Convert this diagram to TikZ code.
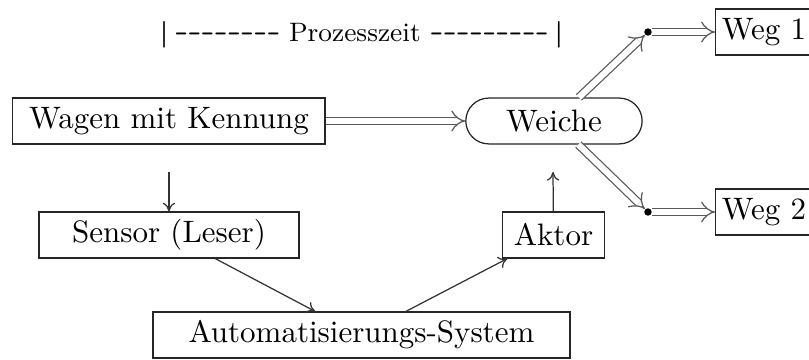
\documentclass[tikz,border=0pt]{standalone}
\usetikzlibrary{arrows.meta, shapes.misc}

\newcommand{\zeitstrich}{\texttt{\fontsize{8}{10}\selectfont-}}

\begin{document}
\begin{tikzpicture}[
  kasten/.style={draw=black!85, text=black, minimum height=0.52cm, inner sep=2pt},
  bahn/.style={draw=black!65, double, double distance=2pt, -{Implies[length=3.2pt]}},
  signal/.style={-{Computer Modern Rightarrow[length=2.8pt,width=4pt]}, black!80},
  punkt/.style={circle, fill, inner sep=0pt, minimum size=2.4pt}]
\useasboundingbox (0,0) rectangle (9.174,4.071);

% Stationen
\node[kasten, minimum width=3.54cm] (wagen) at (1.916,2.699) {Wagen mit Kennung};
\node[kasten, rounded rectangle, minimum width=2.14cm] (weiche) at (6.282,2.699) {Weiche};
\node[kasten, minimum width=2.95cm] (sensor) at (1.916,1.406) {Sensor (Leser)};
\node[kasten, minimum width=4.73cm] (auto) at (4.099,0.272) {Automatisierungs-System};
\node[kasten, minimum width=1.15cm] (aktor) at (6.277,1.406) {Aktor};

\node[punkt] (p1) at (7.348,3.708) {};
\node[punkt] (p2) at (7.348,1.667) {};
\node[kasten, anchor=west] (weg1) at (8.108,3.708) {Weg 1};
\node[kasten, anchor=west] (weg2) at (8.108,1.667) {Weg 2};

\node (zeit) at (4.099,3.674) {\fontsize{8.6}{10}\selectfont
  \textbf{\textbar}\kern2pt\zeitstrich\zeitstrich\zeitstrich\zeitstrich\zeitstrich\zeitstrich\zeitstrich\zeitstrich\
  Prozesszeit
  \zeitstrich\zeitstrich\zeitstrich\zeitstrich\zeitstrich\zeitstrich\zeitstrich\zeitstrich\zeitstrich\kern2pt\textbf{\textbar}};

\coordinate (lesen) at (1.916,2.121);
\coordinate (stellen) at (6.271,2.121);

% Wagen laufen durch die Weiche
\draw[bahn] (wagen) -- (weiche);
\draw[bahn] (weiche) -- (p1);
\draw[bahn] (weiche) -- (p2);
\draw[bahn] (p1) -- (weg1);
\draw[bahn] (p2) -- (weg2);

% Signalweg
\draw[signal] (lesen) -- (sensor);
\draw[signal] (sensor.-27.6) -- (auto.153);
\draw[signal] (auto.28) -- (aktor.-153);
\draw[signal] (aktor) -- (stellen);
\end{tikzpicture}
\end{document}
